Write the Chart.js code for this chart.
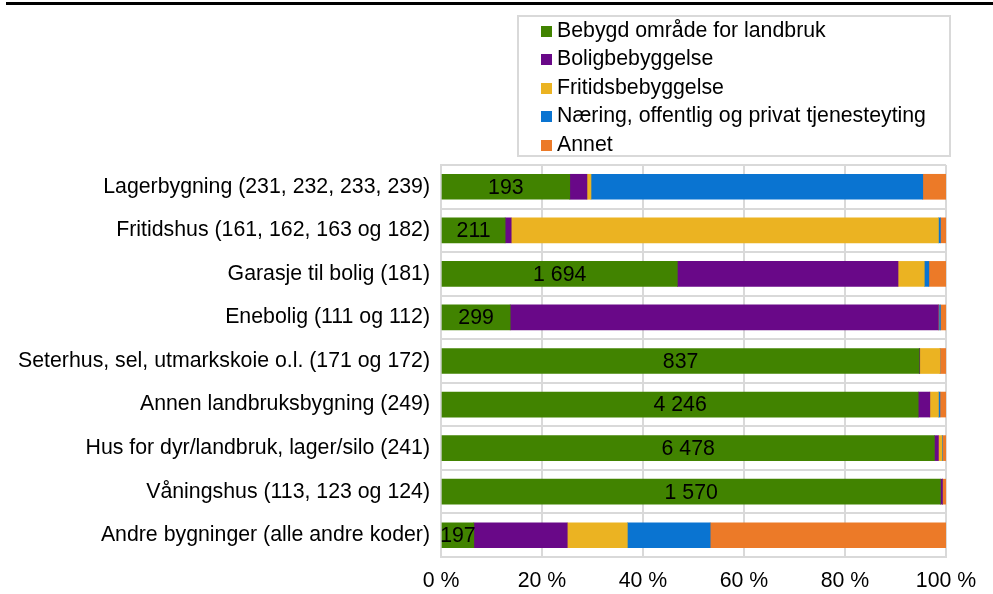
<!DOCTYPE html>
<html>
<head>
<meta charset="utf-8">
<script src="https://cdn.jsdelivr.net/npm/chart.js@4/dist/chart.umd.min.js"></script>
<style>
  body { margin: 0; background: #fff; }
  #wrap { position: relative; width: 993px; height: 594px; }
  #topline { position: absolute; left: 6px; top: 2px; width: 987px; height: 3px; background: #000; }
  #legendBox { position: absolute; left: 517px; top: 15px; width: 430px; height: 138px; border: 2px solid #d9d9d9; }
  #legend { position: absolute; left: 541px; top: 15.75px; font: 21.3px 'Liberation Sans', Arial, sans-serif; color: #000; }
  .item { height: 28.5px; line-height: 28.5px; white-space: nowrap; }
  .swatch { display: inline-block; width: 11px; height: 11px; margin-right: 5px; vertical-align: 0px; }
  canvas { position: absolute; left: 0; top: 0; }
</style>
</head>
<body>
<div id="wrap">
  <canvas id="chart" width="993" height="594"></canvas>
  <div id="topline"></div>
  <div id="legendBox"></div>
  <div id="legend"></div>
</div>
<script>
const categories = [
  'Lagerbygning (231, 232, 233, 239)',
  'Fritidshus (161, 162, 163 og 182)',
  'Garasje til bolig (181)',
  'Enebolig (111 og 112)',
  'Seterhus, sel, utmarkskoie o.l. (171 og 172)',
  'Annen landbruksbygning (249)',
  'Hus for dyr/landbruk, lager/silo (241)',
  'Våningshus (113, 123 og 124)',
  'Andre bygninger (alle andre koder)'
];

// number of buildings on "Bebygd område for landbruk" (label on green bar)
const landbrukCounts = [193, 211, 1694, 299, 837, 4246, 6478, 1570, 197];

// share of buildings (%) by land use
const landbruk = [25.5, 12.7, 46.8, 13.7, 94.7, 94.5, 97.7, 98.9, 6.5];
const bolig    = [3.4, 1.2, 43.7, 84.8, 0.1, 2.3, 0.8, 0.4, 18.5];
const fritid   = [0.8, 84.6, 5.2, 0.1, 4.0, 1.7, 0.7, 0.0, 11.9];
const naering  = [65.7, 0.4, 0.9, 0.3, 0.0, 0.3, 0.1, 0.0, 16.4];
const annet    = [4.6, 1.1, 3.4, 1.1, 1.2, 1.2, 0.7, 0.7, 46.7];

const seriesNames = [
  'Bebygd område for landbruk',
  'Boligbebyggelse',
  'Fritidsbebyggelse',
  'Næring, offentlig og privat tjenesteyting',
  'Annet'
];
const seriesColors = ['#418300', '#690888', '#ebb322', '#0a74d1', '#ec7a28'];
const xTicks = [0, 20, 40, 60, 80, 100];

const FONT = "'Liberation Sans', Arial, sans-serif";
const FSIZE = 21.3;
const GRID = '#d9d9d9';

const fmt = n => n.toString().replace(/\B(?=(\d{3})+(?!\d))/g, ' ');

// html legend, one item per line
const legendEl = document.getElementById('legend');
seriesNames.forEach((name, i) => {
  const row = document.createElement('div');
  row.className = 'item';
  const sw = document.createElement('span');
  sw.className = 'swatch';
  sw.style.background = seriesColors[i];
  row.appendChild(sw);
  row.appendChild(document.createTextNode(name));
  legendEl.appendChild(row);
});

// draws the counts in the middle of the green segments
const countLabels = {
  id: 'countLabels',
  afterDatasetsDraw(chart) {
    const ctx = chart.ctx;
    const meta = chart.getDatasetMeta(0);
    ctx.save();
    ctx.font = FSIZE + 'px ' + FONT;
    ctx.fillStyle = '#000';
    ctx.textAlign = 'center';
    ctx.textBaseline = 'middle';
    meta.data.forEach((bar, i) => {
      const { x, y, base } = bar.getProps(['x', 'y', 'base'], true);
      ctx.fillText(fmt(landbrukCounts[i]), (x + base) / 2, y + 1);
    });
    ctx.restore();
  }
};

const allSeries = [landbruk, bolig, fritid, naering, annet];

new Chart(document.getElementById('chart').getContext('2d'), {
  type: 'bar',
  data: {
    labels: categories,
    datasets: allSeries.map((d, i) => ({
      label: seriesNames[i],
      data: d,
      backgroundColor: seriesColors[i],
      borderWidth: 0,
      barThickness: 25
    }))
  },
  options: {
    indexAxis: 'y',
    responsive: false,
    animation: false,
    devicePixelRatio: 1,
    layout: { padding: { top: 165, right: 47, bottom: 0, left: 0 } },
    scales: {
      x: {
        stacked: true,
        min: 0,
        max: 100,
        afterBuildTicks: (scale) => {
          scale.ticks = xTicks.map(v => ({ value: v }));
        },
        afterFit: (scale) => { scale.height = 37; },
        grid: { color: GRID, lineWidth: 2, drawTicks: false },
        border: { color: GRID, width: 2 },
        ticks: {
          color: '#000',
          padding: 11,
          font: { family: FONT, size: FSIZE },
          callback: v => v + ' %'
        }
      },
      y: {
        stacked: true,
        afterFit: (scale) => { scale.width = 441; },
        grid: { color: GRID, lineWidth: 2, drawTicks: false, offset: true },
        border: { color: GRID, width: 2 },
        ticks: {
          color: '#000',
          padding: 11,
          font: { family: FONT, size: FSIZE }
        }
      }
    },
    plugins: {
      legend: { display: false },
      tooltip: { enabled: false }
    }
  },
  plugins: [countLabels]
});
</script>
</body>
</html>
